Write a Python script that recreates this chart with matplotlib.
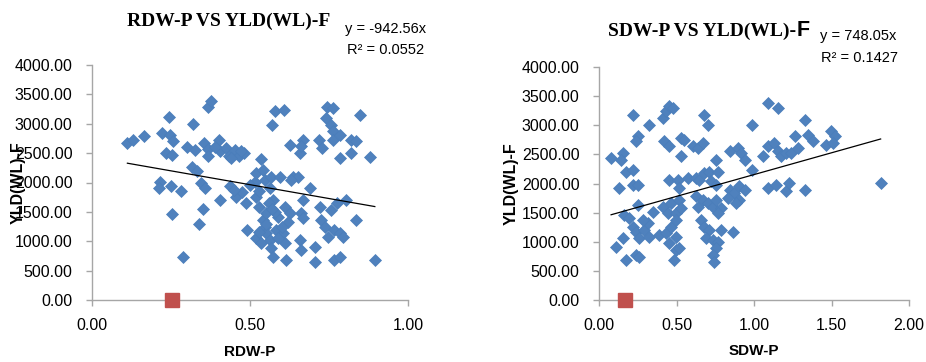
import numpy as np
import matplotlib
matplotlib.use('Agg')
import matplotlib.pyplot as plt

# Datos (RDW-P vs YLD)
rdw_x = [0.112, 0.13, 0.165, 0.222, 0.243, 0.248, 0.256, 0.233, 0.253, 0.214,
         0.212, 0.251, 0.281, 0.253, 0.288, 0.320, 0.302, 0.325, 0.318, 0.333,
         0.346, 0.359, 0.351, 0.339, 0.367, 0.378, 0.353, 0.367, 0.367, 0.401,
         0.404, 0.425, 0.434, 0.451, 0.465, 0.480, 0.492, 0.404, 0.436, 0.457,
         0.476, 0.486, 0.515, 0.518, 0.536, 0.541, 0.546, 0.520, 0.530, 0.541,
         0.552, 0.546, 0.520, 0.536, 0.552, 0.562, 0.568, 0.573, 0.583, 0.589,
         0.573, 0.562, 0.571, 0.578, 0.607, 0.567, 0.594, 0.610, 0.604, 0.610,
         0.615, 0.626, 0.620, 0.636, 0.626, 0.652, 0.662, 0.668, 0.657, 0.662,
         0.657, 0.668, 0.662, 0.668, 0.691, 0.705, 0.705, 0.717, 0.727, 0.720,
         0.726, 0.736, 0.746, 0.743, 0.763, 0.741, 0.757, 0.763, 0.763, 0.784,
         0.784, 0.757, 0.767, 0.767, 0.784, 0.784, 0.795, 0.775, 0.805, 0.821,
         0.837, 0.821, 0.847, 0.837, 0.879, 0.895, 0.44, 0.47, 0.39, 0.53,
         0.56, 0.58, 0.55, 0.60, 0.59, 0.57, 0.63, 0.53, 0.50, 0.45]
rdw_y = [2670, 2727, 2795, 2840, 3114, 2812, 2700, 2500, 2472, 2017,
         1903, 1932, 1847, 1466, 727, 2989, 2597, 2557, 2256, 2199,
         2000, 1903, 1545, 1295, 3284, 3381, 2670, 2568, 2455, 2727,
         2528, 2585, 2455, 2545, 2443, 2500, 1193, 1705, 1932, 1761,
         1830, 1648, 2017, 2159, 2398, 2216, 2045, 1761, 1591, 1364,
         1477, 1250, 1051, 966, 1136, 1023, 881, 739, 1193, 1420,
         1705, 1903, 2983, 3210, 3239, 2102, 2102, 1591, 1136, 966,
         682, 1477, 1335, 2102, 2642, 2102, 1477, 1705, 1023, 852,
         2500, 2727, 2614, 1392, 1903, 909, 653, 2727, 2585, 1591,
         1364, 1250, 1068, 3284, 3267, 3097, 2983, 2869, 2727, 2812,
         2415, 1534, 1193, 682, 739, 1136, 1080, 1648, 1705, 2727,
         2699, 2500, 3154, 1364, 2432, 682, 2420, 2540, 2600, 1850,
         1650, 1500, 1300, 1250, 1050, 1550, 2050, 1150, 1950, 1880]

# Datos (SDW-P vs YLD)
sdw_x = [0.078, 0.131, 0.153, 0.142, 0.217, 0.174, 0.217, 0.250, 0.239, 0.217,
         0.250, 0.321, 0.347, 0.250, 0.159, 0.196, 0.217, 0.239, 0.260, 0.153,
         0.110, 0.174, 0.239, 0.260, 0.293, 0.314, 0.282, 0.325, 0.390, 0.411,
         0.433, 0.454, 0.476, 0.422, 0.454, 0.454, 0.508, 0.530, 0.530, 0.551,
         0.573, 0.519, 0.411, 0.444, 0.465, 0.497, 0.519, 0.530, 0.433, 0.465,
         0.497, 0.454, 0.497, 0.519, 0.487, 0.497, 0.605, 0.637, 0.670, 0.680,
         0.702, 0.626, 0.647, 0.680, 0.712, 0.756, 0.767, 0.723, 0.756, 0.626,
         0.637, 0.670, 0.702, 0.734, 0.756, 0.788, 0.767, 0.659, 0.680, 0.712,
         0.691, 0.734, 0.767, 0.788, 0.756, 0.734, 0.745, 0.863, 0.842, 0.896,
         0.918, 0.939, 0.842, 0.874, 0.831, 0.906, 0.906, 0.939, 0.884, 0.990,
         1.089, 1.154, 0.990, 1.057, 1.089, 1.132, 1.154, 1.175, 1.208, 1.240,
         1.262, 1.326, 1.348, 1.380, 1.466, 1.498, 1.520, 1.509, 1.089, 1.143,
         1.208, 1.229, 1.326, 1.817, 1.283]
sdw_y = [2436, 1920, 2522, 2407, 3181, 2206, 2235, 2808, 2722, 1977,
         1977, 3009, 1519, 1633, 1461, 1404, 1261, 1175, 1060, 1060,
         917, 688, 774, 745, 1204, 1318, 1375, 1089, 1118, 3123,
         3238, 3324, 3295, 2722, 2636, 2063, 2063, 2464, 2780, 2751,
         2092, 1920, 1605, 1490, 1662, 1490, 1719, 1576, 1146, 1261,
         1375, 974, 860, 888, 688, 1089, 2636, 2608, 2694, 3181,
         3009, 2092, 2063, 2178, 2206, 2407, 2206, 2035, 1977, 1777,
         1605, 1719, 1662, 1605, 1719, 1576, 1490, 1375, 1261, 1204,
         1060, 1031, 1003, 1204, 888, 774, 659, 1175, 2550, 2608,
         2522, 2407, 1891, 1834, 1748, 1949, 1719, 1891, 1662, 3009,
         3381, 3295, 2235, 2464, 2636, 2694, 2550, 2464, 2522, 2522,
         2808, 3095, 2837, 2722, 2665, 2894, 2808, 2694, 1920, 1977,
         1863, 2006, 1891, 2017, 2608]

# Punto rojo (serie 2) y lineas de tendencia
rdw_red = (0.253, 0)
sdw_red = (0.170, 0)
rdw_trend = (-942.56, 2434)
sdw_trend = (748.05, 1405)

blue = '#4F81BD'
red = '#C0504D'
W, H = 926, 362


def px(x, y):
    return x / W, 1 - y / H


def estilo_ejes(ax, xmax, xticks):
    ax.set_xlim(0, xmax)
    ax.set_ylim(0, 4000)
    ax.set_xticks(xticks)
    ax.set_yticks(np.arange(0, 4001, 500))
    ax.set_xticklabels(['%.2f' % t for t in xticks])
    ax.set_yticklabels(['%.2f' % t for t in np.arange(0, 4001, 500)])
    for s in ['top', 'right']:
        ax.spines[s].set_visible(False)
    for s in ['left', 'bottom']:
        ax.spines[s].set_color('#A6A6A6')
        ax.spines[s].set_linewidth(1.0)
    ax.tick_params(axis='both', colors='#A6A6A6', length=4, width=1,
                   labelcolor='black', labelsize=11.5)
    ax.tick_params(axis='x', pad=9)
    ax.tick_params(axis='y', pad=10)
    for lab in ax.get_xticklabels() + ax.get_yticklabels():
        lab.set_family('Liberation Sans')


def panel(ax, xs, ys, red_pt, trend, xmax, xticks, xlabel, ylab_x):
    ax.plot(xs, ys, linestyle='none', marker='D', ms=6.3,
            color=blue, mec='#4A7EBB', mew=0.5, zorder=3)
    ax.plot([red_pt[0]], [red_pt[1]], linestyle='none', marker='s', ms=9.5,
            color=red, mec=red, clip_on=False, zorder=4)
    tx = np.array([min(xs), max(xs)])
    ax.plot(tx, trend[0] * tx + trend[1], color='black', lw=0.9, zorder=5)
    estilo_ejes(ax, xmax, xticks)
    ax.set_xlabel(xlabel, fontsize=11, fontweight='bold', family='Liberation Sans')
    ax.set_ylabel('YLD(WL)-F', fontsize=11.5, fontweight='bold', family='Liberation Sans')
    ax.xaxis.set_label_coords(0.5, -0.19)
    ax.yaxis.set_label_coords(ylab_x, 0.5)


fig = plt.figure(figsize=(W / 100, H / 100), dpi=100)
ax1 = fig.add_axes([92 / W, 1 - 300 / H, 316 / W, 235 / H])
ax2 = fig.add_axes([599 / W, 1 - 300 / H, 310 / W, 233 / H])

panel(ax1, rdw_x, rdw_y, rdw_red, rdw_trend, 1.0, [0, 0.5, 1.0], 'RDW-P', -0.209)
panel(ax2, sdw_x, sdw_y, sdw_red, sdw_trend, 2.0, [0, 0.5, 1.0, 1.5, 2.0], 'SDW-P', -0.258)

# Titulos y ecuaciones
fig.text(*px(229, 26), 'RDW-P VS YLD(WL)-F', ha='center', va='baseline',
         family='Liberation Serif', fontweight='bold', fontsize=14)
fig.text(*px(345, 33), 'y = -942.56x', ha='left', va='baseline',
         family='Liberation Sans', fontsize=10.5)
fig.text(*px(347, 54), 'R² = 0.0552', ha='left', va='baseline',
         family='Liberation Sans', fontsize=10.5)

t2 = fig.text(*px(608, 36), 'SDW-P VS YLD(WL)-', ha='left', va='baseline',
              family='Liberation Serif', fontweight='bold', fontsize=14)
fig.canvas.draw()
bb = t2.get_window_extent(renderer=fig.canvas.get_renderer())
fig.text(bb.x1 / W, 1 - 36 / H, 'F', ha='left', va='baseline',
         family='Liberation Sans', fontweight='bold', fontsize=15.5)
fig.text(*px(820, 40), 'y = 748.05x', ha='left', va='baseline',
         family='Liberation Sans', fontsize=10.5)
fig.text(*px(821, 62), 'R² = 0.1427', ha='left', va='baseline',
         family='Liberation Sans', fontsize=10.5)

fig.savefig('out.png', dpi=100)
